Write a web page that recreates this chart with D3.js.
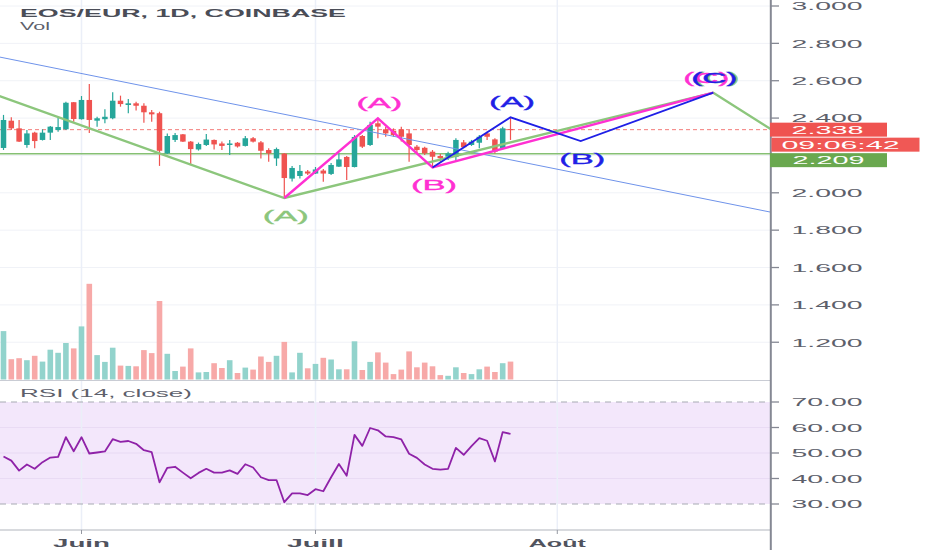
<!DOCTYPE html>
<html>
<head>
  <meta charset="utf-8" />
  <title>EOS/EUR, 1D, COINBASE</title>
  <style>
    body { margin:0; background:#fff; }
    svg { display:block; font-family:"Liberation Sans", Arial, sans-serif; }
  </style>
</head>
<body>
  <div id="container"></div>
  <script src="https://d3js.org/d3.v7.min.js"></script>
  <script>

// daily candles, first one on 22 May 2020
const firstDay = "2020-05-22";
const opens  = [2.240,2.386,2.345,2.256,2.322,2.283,2.322,2.336,2.340,2.485,2.394,2.497,2.386,2.394,2.399,2.493,2.470,2.479,2.466,2.431,
                2.426,2.211,2.283,2.313,2.274,2.232,2.256,2.283,2.264,2.256,2.268,2.251,2.292,2.270,2.229,2.184,2.210,2.076,2.090,2.114,
                2.103,2.119,2.101,2.140,2.192,2.138,2.304,2.256,2.372,2.340,2.332,2.340,2.318,2.247,2.241,2.220,2.197,2.193,2.193,2.270,
                2.256,2.268,2.318,2.286,2.238,2.341];
const highs  = [2.417,2.404,2.390,2.336,2.327,2.340,2.358,2.404,2.488,2.486,2.518,2.582,2.407,2.447,2.538,2.520,2.502,2.488,2.479,2.443,
                2.434,2.318,2.320,2.315,2.277,2.269,2.315,2.285,2.275,2.283,2.272,2.304,2.299,2.277,2.238,2.242,2.213,2.144,2.149,2.122,
                2.138,2.127,2.160,2.211,2.197,2.309,2.309,2.381,2.399,2.354,2.345,2.354,2.336,2.256,2.247,2.229,2.208,2.220,2.292,2.283,
                2.283,2.309,2.327,2.292,2.354,2.404];
const lows   = [2.229,2.336,2.272,2.241,2.238,2.280,2.283,2.327,2.336,2.381,2.392,2.320,2.354,2.372,2.394,2.461,2.426,2.440,2.375,2.381,
                2.144,2.208,2.272,2.272,2.152,2.226,2.251,2.232,2.229,2.202,2.242,2.248,2.269,2.184,2.166,2.144,1.972,2.060,2.076,2.095,
                2.101,2.059,2.095,2.138,2.068,2.136,2.240,2.251,2.292,2.300,2.300,2.274,2.166,2.211,2.202,2.136,2.166,2.176,2.166,2.238,
                2.251,2.238,2.283,2.211,2.233,2.283];
const closes = [2.390,2.345,2.274,2.318,2.277,2.322,2.354,2.352,2.482,2.395,2.497,2.390,2.399,2.407,2.493,2.475,2.479,2.466,2.431,2.420,
                2.225,2.304,2.309,2.274,2.234,2.261,2.285,2.259,2.251,2.264,2.248,2.292,2.274,2.225,2.211,2.234,2.079,2.133,2.117,2.103,
                2.125,2.103,2.149,2.179,2.138,2.299,2.247,2.363,2.354,2.318,2.309,2.300,2.256,2.229,2.211,2.193,2.185,2.211,2.283,2.244,
                2.274,2.300,2.300,2.220,2.345,2.338];
const volumes = [484,203,213,193,237,179,298,267,365,311,531,957,244,176,318,139,136,132,294,264,
                 785,257,85,129,311,71,75,163,115,193,65,119,99,230,176,237,376,71,267,112,
                 156,217,200,102,102,382,95,176,271,169,54,99,281,122,169,132,44,37,122,65,
                 54,102,129,75,163,179];
const rsi = [48.6,47.0,43.1,45.5,43.8,46.4,48.2,48.5,56.2,50.7,56.2,49.8,50.2,50.6,55.4,54.4,54.7,53.6,51.1,50.3,
             38.5,44.2,44.6,42.3,40.1,42.2,43.8,42.3,42.3,43.2,41.8,45.6,44.3,40.5,39.4,39.4,30.7,34.2,34.2,33.5,
             35.8,35.0,40.5,45.7,41.1,57.1,52.8,59.8,58.9,56.5,56.2,55.3,49.7,48.1,45.5,43.8,43.5,43.8,52.0,49.3,
             52.7,55.8,54.8,46.7,58.2,57.5];

const priceTicks = [3.0,2.8,2.6,2.4,2.2,2.0,1.8,1.6,1.4,1.2];
const rsiTicks = [70,60,50,40,30];
const monthTicks = ["2020-06-01","2020-07-01","2020-08-01"];
const monthLabels = ["Juin","Juill","Août"];

const lastPrice = 2.338;
const countdown = "09:06:42";
const levelLine = 2.209;

// drawings on the chart: [date, price]
const trendLine = [["2020-05-21",2.731],["2020-08-29",1.891]];
const greenWave = [["2020-05-21",2.525],["2020-06-27",1.972],["2020-08-21",2.536],["2020-08-29",2.324]];
const pinkWave  = [["2020-06-27",1.972],["2020-07-09",2.399],["2020-07-16",2.136],["2020-08-21",2.536]];
const blueWave  = [["2020-07-16",2.136],["2020-07-26",2.404],["2020-08-04",2.277],["2020-08-21",2.536]];
const waveLabels = [
  ["(A)","2020-06-27",1.972,"green","below"],
  ["(A)","2020-07-09",2.399,"pink","above"],
  ["(B)","2020-07-16",2.136,"pink","below"],
  ["(A)","2020-07-26",2.404,"blue","above"],
  ["(B)","2020-08-04",2.277,"blue","below"],
  ["(C)","2020-08-21",2.536,"green","above"],
  ["(C)","2020-08-21",2.536,"pink","above"],
  ["(C)","2020-08-21",2.536,"blue","above"]
];

const colors = {up:"#26a69a", down:"#ef5350", volUp:"#92d3cc", volDown:"#f7a9a8",
  green:"#8cc67c", pink:"#ff30d2", blue:"#1f1fe6", trend:"#6f93ea"};

const W = 932, H = 550, plotW = 770, paneBottom = 380, axisY = 530;
const dayMs = 864e5;
const parseDay = d3.utcParse("%Y-%m-%d");
const t0 = parseDay(firstDay);
const dates = closes.map((c, i) => new Date(+t0 + i * dayMs));

const x = d3.scaleUtc()
  .domain([new Date(+t0 - 0.449 * dayMs), new Date(+t0 + 98.27 * dayMs)])
  .range([0, plotW]);
const y = d3.scaleLinear().domain([1.2, 3.0]).range([342.24, 6]);
const yVol = d3.scaleLinear().domain([0, 1000]).range([379.5, 279.5]);
const yRsi = d3.scaleLinear().domain([30, 70]).range([504, 402]);

const svg = d3.select("#container").append("svg")
  .attr("width", W).attr("height", H);

svg.append("defs").append("clipPath").attr("id", "mainClip")
  .append("rect").attr("x", 0).attr("y", 0).attr("width", plotW).attr("height", paneBottom);

// rsi band first so grid shows through
svg.append("rect")
  .attr("x", 0).attr("y", yRsi(70)).attr("width", plotW).attr("height", yRsi(30) - yRsi(70))
  .attr("fill", "#f3e7fb");

// grid
const grid = svg.append("g");
grid.selectAll(".hgrid").data(priceTicks).join("line")
  .attr("x1", 0).attr("x2", plotW).attr("y1", d => y(d)).attr("y2", d => y(d))
  .attr("stroke", "#f0f2f7");
grid.selectAll(".rgrid").data([60,50,40]).join("line")
  .attr("x1", 0).attr("x2", plotW).attr("y1", d => yRsi(d)).attr("y2", d => yRsi(d))
  .attr("stroke", "rgba(120,90,160,0.08)");
grid.selectAll(".vgrid").data(monthTicks).join("line")
  .attr("x1", d => x(parseDay(d))).attr("x2", d => x(parseDay(d)))
  .attr("y1", 0).attr("y2", axisY)
  .attr("stroke", "#ebeff8").attr("stroke-width", 1.5);

const main = svg.append("g").attr("clip-path", "url(#mainClip)");

// volume
main.selectAll(".vol").data(volumes).join("rect")
  .attr("x", (d, i) => x(dates[i]) - 2.8)
  .attr("y", d => yVol(d))
  .attr("width", 5.6)
  .attr("height", d => yVol(0) - yVol(d))
  .attr("fill", (d, i) => closes[i] >= opens[i] ? colors.volUp : colors.volDown);

// horizontal level + last price line
main.append("line")
  .attr("x1", 0).attr("x2", plotW).attr("y1", y(levelLine)).attr("y2", y(levelLine))
  .attr("stroke", "#86c073").attr("stroke-width", 1.5);
main.append("line")
  .attr("x1", 0).attr("x2", plotW).attr("y1", y(lastPrice)).attr("y2", y(lastPrice))
  .attr("stroke", "#f47c7a").attr("stroke-width", 1).attr("stroke-dasharray", "4,3");

// candles
const candles = main.selectAll(".candle").data(closes).join("g");
candles.append("line")
  .attr("x1", (d, i) => x(dates[i])).attr("x2", (d, i) => x(dates[i]))
  .attr("y1", (d, i) => y(highs[i])).attr("y2", (d, i) => y(lows[i]))
  .attr("stroke", (d, i) => d >= opens[i] ? colors.up : colors.down).attr("stroke-width", 1.2);
candles.append("rect")
  .attr("x", (d, i) => x(dates[i]) - 2.75)
  .attr("y", (d, i) => y(Math.max(d, opens[i])))
  .attr("width", 5.5)
  .attr("height", (d, i) => Math.max(1, Math.abs(y(d) - y(opens[i]))))
  .attr("fill", (d, i) => d >= opens[i] ? colors.up : colors.down);

// drawings
const line = d3.line().x(d => x(parseDay(d[0]))).y(d => y(d[1]));
main.append("path").attr("d", line(trendLine)).attr("fill", "none")
  .attr("stroke", colors.trend).attr("stroke-width", 1);
main.append("path").attr("d", line(greenWave)).attr("fill", "none")
  .attr("stroke", colors.green).attr("stroke-width", 2.4);
main.append("path").attr("d", line(pinkWave)).attr("fill", "none")
  .attr("stroke", colors.pink).attr("stroke-width", 2.4);
main.append("path").attr("d", line(blueWave)).attr("fill", "none")
  .attr("stroke", colors.blue).attr("stroke-width", 1.8);

const cNudge = {green: 3, pink: -7, blue: 1};
main.selectAll(".wlab").data(waveLabels).join("text")
  .attr("x", d => x(parseDay(d[1])) + (d[0] === "(C)" ? cNudge[d[3]] : 1.5) - 23)
  .attr("y", d => y(d[2]) + (d[4] === "below" ? 18 : -15))
  .attr("dominant-baseline", "central")
  .attr("font-size", 14)
  .attr("textLength", 46).attr("lengthAdjust", "spacingAndGlyphs")
  .attr("fill", d => colors[d[3]])
  .attr("stroke", d => colors[d[3]]).attr("stroke-width", 0.35)
  .text(d => d[0]);

// pane separator and time axis
svg.append("line").attr("x1", 0).attr("x2", plotW).attr("y1", paneBottom + 0.5).attr("y2", paneBottom + 0.5)
  .attr("stroke", "#c9ccd4");
svg.append("line").attr("x1", 0).attr("x2", plotW).attr("y1", axisY).attr("y2", axisY)
  .attr("stroke", "#b2b5be").attr("stroke-width", 1.2);
svg.selectAll(".mtick").data(monthTicks).join("line")
  .attr("x1", d => x(parseDay(d))).attr("x2", d => x(parseDay(d)))
  .attr("y1", axisY).attr("y2", axisY + 4).attr("stroke", "#9598a1");
svg.selectAll(".mlab").data(monthTicks).join("text")
  .attr("x", d => x(parseDay(d)) - 28.5)
  .attr("y", 547)
  .attr("font-size", 11).attr("font-weight", "bold")
  .attr("textLength", 57).attr("lengthAdjust", "spacingAndGlyphs")
  .attr("fill", "#50535e")
  .text((d, i) => monthLabels[i]);

// RSI
svg.selectAll(".rdash").data([70, 30]).join("line")
  .attr("x1", 0).attr("x2", plotW).attr("y1", d => yRsi(d)).attr("y2", d => yRsi(d))
  .attr("stroke", "#a7aab3").attr("stroke-dasharray", "6,5");
svg.append("path")
  .attr("d", d3.line().x((d, i) => x(dates[i])).y(d => yRsi(d))(rsi))
  .attr("fill", "none").attr("stroke", "#8f22a8").attr("stroke-width", 1.8)
  .attr("stroke-linejoin", "round");

// price axis
svg.append("line").attr("x1", plotW + 0.8).attr("x2", plotW + 0.8).attr("y1", 0).attr("y2", H)
  .attr("stroke", "#858893").attr("stroke-width", 2);

// price tags on the axis
const tagH = 14;
const redTop = y(lastPrice) - tagH / 2;
const tags = [
  {top: redTop, x0: plotW, w: 117, fill: colors.down, text: d3.format(".3f")(lastPrice), tx: 791.5, tw: 72},
  {top: redTop + tagH + 1, x0: plotW + 1.5, w: 148, fill: "#f05855", text: countdown, tx: 781.5, tw: 118},
  {top: redTop + 2 * tagH + 2.5, x0: plotW, w: 117, fill: "#6aa84f", text: d3.format(".3f")(levelLine), tx: 792.5, tw: 72}
];
const tagsTop = tags[0].top, tagsBottom = tags[2].top + tagH;

const tickLab = (g, vals, sc, fmt) => {
  g.selectAll("line").data(vals).join("line")
    .attr("x1", plotW + 1).attr("x2", plotW + 9).attr("y1", d => sc(d)).attr("y2", d => sc(d))
    .attr("stroke", "#858893").attr("stroke-width", 1.3);
  // labels fully under the price tags are hidden
  g.selectAll("text").data(vals.filter(d => sc(d) - 4 < tagsTop || sc(d) + 4 > tagsBottom)).join("text")
    .attr("x", 791.5).attr("y", d => sc(d) + 4.3)
    .attr("font-size", 11.5)
    .attr("textLength", 71).attr("lengthAdjust", "spacingAndGlyphs")
    .attr("fill", "#5d606b")
    .text(fmt);
};
svg.append("g").call(tickLab, priceTicks, y, d3.format(".3f"));
svg.append("g").call(tickLab, rsiTicks, yRsi, d3.format(".2f"));

const tg = svg.selectAll(".tag").data(tags).join("g");
tg.append("rect").attr("x", d => d.x0).attr("y", d => d.top).attr("width", d => d.w).attr("height", tagH)
  .attr("fill", d => d.fill);
tg.append("text").attr("x", d => d.tx).attr("y", d => d.top + tagH / 2 + 4.2)
  .attr("font-size", 11.5).attr("fill", "#fff")
  .attr("textLength", d => d.tw).attr("lengthAdjust", "spacingAndGlyphs")
  .text(d => d.text);

// legends
svg.append("text").attr("x", 20).attr("y", 17.3)
  .attr("font-size", 11.5).attr("font-weight", "bold").attr("fill", "#4a4d57")
  .attr("textLength", 326).attr("lengthAdjust", "spacingAndGlyphs")
  .text("EOS/EUR, 1D, COINBASE");
svg.append("text").attr("x", 20).attr("y", 30)
  .attr("font-size", 11.5).attr("fill", "#5d606b")
  .attr("textLength", 30).attr("lengthAdjust", "spacingAndGlyphs")
  .text("Vol");
svg.append("text").attr("x", 20).attr("y", 397)
  .attr("font-size", 11.5).attr("fill", "#5d606b")
  .attr("textLength", 172).attr("lengthAdjust", "spacingAndGlyphs")
  .text("RSI (14, close)");
  </script>
</body>
</html>
